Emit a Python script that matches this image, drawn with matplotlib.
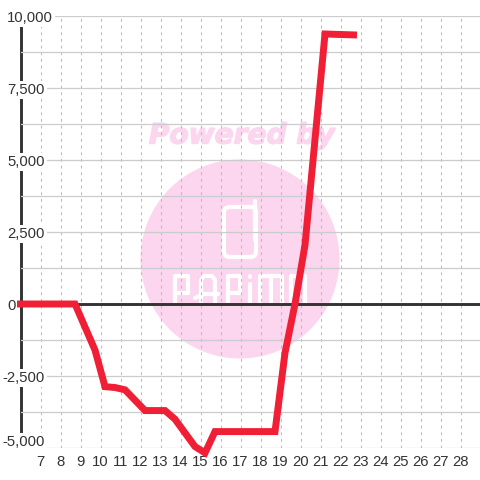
import matplotlib
matplotlib.use("Agg")
import matplotlib.pyplot as plt
import matplotlib.patheffects as pe
from matplotlib.lines import Line2D
from matplotlib.patches import Circle, FancyBboxPatch
from matplotlib.transforms import ScaledTranslation

hours = [5.8, 8.7, 9.7, 10.2, 10.7, 11.2, 12.2, 13.2, 13.7, 14.7, 15.2, 15.7,
         18.7, 19.2, 19.7, 20.2, 21.2, 22.8]
values = [0, 0, -1600, -2870, -2900, -2980, -3700, -3700, -4000, -4950, -5170,
          -4430, -4430, -1700, 0, 2050, 9375, 9340]
x_ticks = list(range(7, 29))
y_major = [-5000, -2500, 0, 2500, 5000, 7500, 10000]
y_labels = ["-5,000", "-2,500", "0", "2,500", "5,000", "7,500", "10,000"]
y_minor = [-3750, -1250, 1250, 3750, 6250, 8750]

INK = "#333333"
GRID = "#cccccc"
PINK = "#fbd6ee"
RED = "#f01f35"
FS = 10.7
plt.rcParams["font.family"] = "Liberation Sans"

fig = plt.figure(figsize=(4.8, 4.8), dpi=100)
fig.patch.set_facecolor("white")


def px(x, y):
    return x / 480, 1 - y / 480


# watermark behind the chart
fig.add_artist(Circle(px(240, 259), 99.5 / 480, transform=fig.transFigure,
                      facecolor=PINK, edgecolor="none", zorder=-3))
fig.text(*px(241.5, 135.5), "Powered by", family="DejaVu Sans", weight="bold",
         style="oblique", fontsize=20.2, color=PINK, ha="center", va="center", zorder=-3,
         path_effects=[pe.withStroke(linewidth=1.0, foreground=PINK)])


def stroke(points):
    xs, ys = zip(*[px(*p) for p in points])
    fig.add_artist(Line2D(xs, ys, transform=fig.transFigure, color="white", lw=3,
                          solid_capstyle="round", solid_joinstyle="round", zorder=-2))


fig.add_artist(FancyBboxPatch(px(224, 257), 32 / 480, 50 / 480,
                              boxstyle="round,pad=0,rounding_size=0.012",
                              transform=fig.transFigure, facecolor="none",
                              edgecolor="white", lw=3, zorder=-2))
stroke([(255, 240), (255, 201)])
stroke([(175, 303), (175, 276), (188, 276), (188, 293), (175, 293)])
stroke([(201, 303), (201, 280), (204, 276), (212, 276), (215, 280), (215, 303)])
stroke([(195, 298), (204, 294), (218, 294)])
stroke([(228, 303), (228, 276), (240, 276), (240, 293), (228, 293)])
stroke([(250, 303), (250, 284)])
stroke([(250, 276), (250, 276.5)])
stroke([(260, 303), (260, 276), (282, 276), (282, 303)])
stroke([(271, 276), (271, 303)])
stroke([(291, 303), (291, 276), (305, 276), (305, 303)])

ax = fig.add_axes([20.5 / 480, 32 / 480, 459.5 / 480, 432 / 480])
ax.patch.set_visible(False)
ax.set_xlim(5.975, 28.95)
ax.set_ylim(-5000, 10000)
ax.set_axisbelow(True)

for name in ("top", "right", "bottom"):
    ax.spines[name].set_visible(False)
ax.spines["left"].set_color(INK)
ax.spines["left"].set_linewidth(2.1)
ax.spines["left"].set_zorder(0.4)

ax.set_xticks(x_ticks)
ax.set_yticks(y_major, y_labels)
ax.set_yticks(y_minor, minor=True)
ax.grid(True, axis="y", which="both", color=GRID, lw=0.9)
ax.grid(True, axis="x", which="major", color="#bdbdbd", lw=0.8, linestyle=(0, (2.6, 3.4)))
ax.tick_params(axis="both", which="both", length=0, labelsize=FS, labelcolor=INK)
ax.tick_params(axis="x", pad=5)
ax.tick_params(axis="y", pad=9.7)

for tick, label, text in zip(ax.yaxis.get_major_ticks(), ax.get_yticklabels(), y_labels):
    label.set_ha("left")
    dx = -5 if text.startswith("-") else 0
    dy = 7 if text == "-5,000" else -0.5
    label.set_transform(label.get_transform()
                        + ScaledTranslation(dx / 100, dy / 100, fig.dpi_scale_trans))
    if text != "0":
        label.set_bbox(dict(facecolor="white", edgecolor="none",
                            boxstyle="square,pad=0.15"))
for label in ax.get_xticklabels():
    label.set_transform(label.get_transform()
                        + ScaledTranslation(-0.5 / 100, 0, fig.dpi_scale_trans))

ax.axhline(0, color=INK, lw=2.1, zorder=1.5)
ax.plot(hours, values, color=RED, lw=5.0, solid_capstyle="butt",
        solid_joinstyle="miter", clip_on=False, zorder=3)

fig.savefig("out.png", dpi=100, facecolor="white")
